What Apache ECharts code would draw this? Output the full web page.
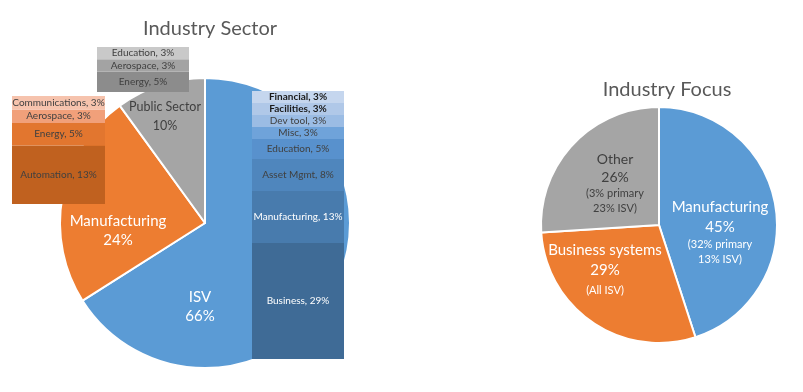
<!DOCTYPE html>
<html>
<head>
<meta charset="utf-8">
<script src="https://cdn.jsdelivr.net/npm/echarts@6/dist/echarts.min.js"></script>
<style>
html,body{margin:0;padding:0;background:#fff;}
#chart{width:803px;height:392px;}
</style>
</head>
<body>
<div id="chart"></div>
<script>
// ---- Data ----
var sectorCats = ['ISV', 'Manufacturing', 'Public Sector'];
var sectorVals = [66, 24, 10];

var isvCats = ['Business', 'Manufacturing', 'Asset Mgmt', 'Education', 'Misc', 'Dev tool', 'Facilities', 'Financial'];
var isvVals = [29, 13, 8, 5, 3, 3, 3, 3];

var mfgCats = ['Automation', 'Energy', 'Aerospace', 'Communications'];
var mfgVals = [13, 5, 3, 3];

var pubCats = ['Energy', 'Aerospace', 'Education'];
var pubVals = [5, 3, 3];

var focusCats = ['Manufacturing', 'Business systems', 'Other'];
var focusVals = [45, 29, 26];
var focusNotes = [['(32% primary', '13% ISV)'], ['(All ISV)'], ['(3% primary', '23% ISV)']];

// ---- Styles ----
var FONT = 'Lato';
var sectorColors = ['#5b9bd5', '#ed7d31', '#a5a5a5'];
var sectorLabelColors = ['#ffffff', '#ffffff', '#404040'];
var sectorLabelSizes = [15, 15, 12.5];
var sectorLabelPos = [[200, 307], [118, 231], [165, 116]];

var focusColors = ['#5b9bd5', '#ed7d31', '#a5a5a5'];
var focusLabelColors = ['#ffffff', '#ffffff', '#404040'];
var focusLabelSizes = [15, 15, 14];
var focusLabelPos = [[720, 232], [605, 270], [615, 183]];

var isvColors = ['#3f6b96', '#487bad', '#4f86bd', '#5891cd', '#6fa3da', '#9bbce4', '#b0c8e8', '#c5d6ee'];
var isvText = ['#ffffff', '#ffffff', '#404040', '#404040', '#404040', '#404040', '#1a1a1a', '#1a1a1a'];
var isvBold = [false, false, false, false, false, false, true, true];
var mfgColors = ['#c0611f', '#e2762f', '#f1a07a', '#f6c3ad'];
var pubColors = ['#8c8c8c', '#a3a3a3', '#c9c9c9'];

function barSeries(cats, vals, colors, textColors, bold, idx) {
  return cats.map(function (c, i) {
    return {
      type: 'bar', name: c, stack: 's' + idx,
      xAxisIndex: idx, yAxisIndex: idx,
      data: [vals[i]], barWidth: '100%', z: 5,
      itemStyle: { color: colors[i] },
      label: {
        show: true, position: 'inside',
        formatter: function (p) { return p.seriesName + ', ' + p.value + '%'; },
        color: textColors ? textColors[i] : '#404040',
        fontFamily: FONT, fontSize: 10,
        fontWeight: (bold && bold[i]) ? 'bold' : 'normal'
      },
      emphasis: { disabled: true }
    };
  });
}

var series = [];
series.push({
  type: 'pie', z: 1,
  center: [205, 223], radius: 145,
  startAngle: 90, clockwise: true,
  data: sectorCats.map(function (c, i) {
    return { name: c, value: sectorVals[i], itemStyle: { color: sectorColors[i] },
      label: { color: sectorLabelColors[i], fontSize: sectorLabelSizes[i] } };
  }),
  itemStyle: { borderColor: '#ffffff', borderWidth: 2 },
  label: {
    show: true, position: 'inside', fontFamily: FONT, lineHeight: 19,
    formatter: function (p) { return p.name + '\n' + p.value + '%'; }
  },
  labelLine: { show: false },
  labelLayout: function (p) {
    var pos = sectorLabelPos[p.dataIndex];
    return { x: pos[0], y: pos[1], align: 'center', verticalAlign: 'middle' };
  },
  emphasis: { disabled: true }
});

series.push({
  type: 'pie', z: 1,
  center: [659, 225], radius: 118,
  startAngle: 90, clockwise: true,
  data: focusCats.map(function (c, i) {
    var col = focusLabelColors[i];
    return { name: c, value: focusVals[i], itemStyle: { color: focusColors[i] },
      label: { color: col,
        rich: {
          big: { fontFamily: FONT, fontSize: focusLabelSizes[i], lineHeight: i === 2 ? 18 : 20, color: col, align: 'center' },
          small: { fontFamily: FONT, fontSize: 11, lineHeight: i === 1 ? 20 : 15, color: col, align: 'center' }
        } } };
  }),
  itemStyle: { borderColor: '#ffffff', borderWidth: 2 },
  label: {
    show: true, position: 'inside', align: 'center',
    formatter: function (p) {
      var lines = ['{big|' + p.name + '}', '{big|' + p.value + '%}'];
      focusNotes[p.dataIndex].forEach(function (n) { lines.push('{small|' + n + '}'); });
      return lines.join('\n');
    }
  },
  labelLine: { show: false },
  labelLayout: function (p) {
    var pos = focusLabelPos[p.dataIndex];
    return { x: pos[0], y: pos[1], align: 'center', verticalAlign: 'middle' };
  },
  emphasis: { disabled: true }
});

series = series.concat(barSeries(isvCats, isvVals, isvColors, isvText, isvBold, 0));
series = series.concat(barSeries(mfgCats, mfgVals, mfgColors, null, null, 1));
series = series.concat(barSeries(pubCats, pubVals, pubColors, null, null, 2));

function sum(a) { return a.reduce(function (s, v) { return s + v; }, 0); }

var grids = [
  { left: 252, top: 91, width: 92, height: 268 },
  { left: 12, top: 96, width: 93, height: 108 },
  { left: 97, top: 47, width: 92, height: 45 }
];
var maxes = [sum(isvVals), sum(mfgVals), sum(pubVals)];

var option = {
  animation: false,
  backgroundColor: '#ffffff',
  title: [
    { text: 'Industry Sector', left: 205, top: 14, textAlign: 'center',
      textStyle: { fontFamily: FONT, fontSize: 20, fontWeight: 'normal', color: '#595959' } },
    { text: 'Industry Focus', left: 662, top: 75, textAlign: 'center',
      textStyle: { fontFamily: FONT, fontSize: 20, fontWeight: 'normal', color: '#595959' } }
  ],
  grid: grids.map(function (g) { return Object.assign({ containLabel: false }, g); }),
  xAxis: [0, 1, 2].map(function (i) {
    return { type: 'category', gridIndex: i, data: ['x'], show: false };
  }),
  yAxis: [0, 1, 2].map(function (i) {
    return { type: 'value', gridIndex: i, min: 0, max: maxes[i], show: false };
  }),
  series: series
};

var chart = echarts.init(document.getElementById('chart'), null, { renderer: 'canvas' });
chart.setOption(option);
</script>
</body>
</html>
